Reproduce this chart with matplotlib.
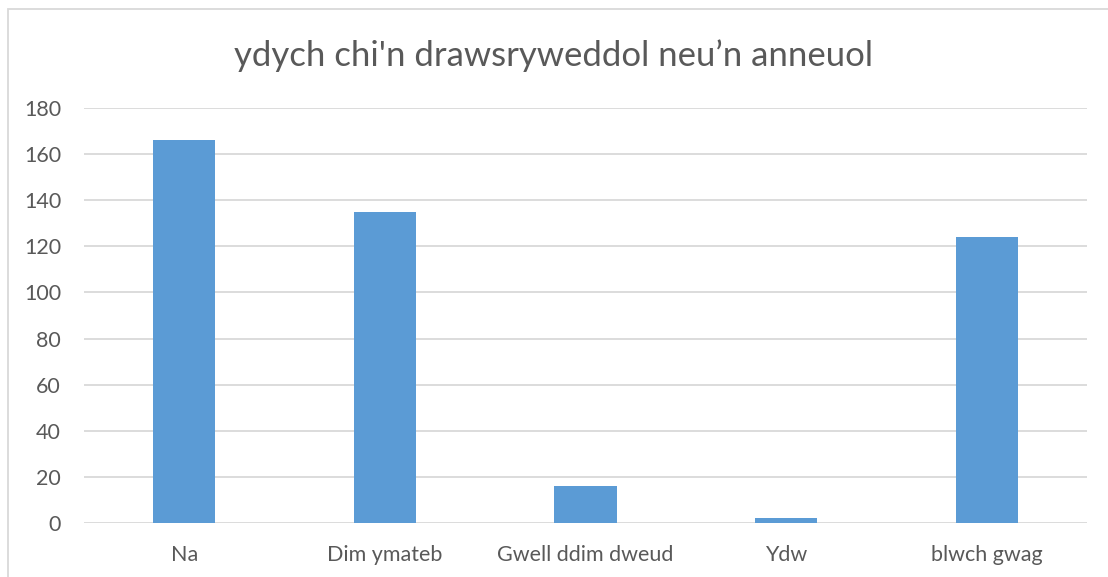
import matplotlib
matplotlib.use("Agg")
import matplotlib.pyplot as plt
from matplotlib.patches import Rectangle

# data
categories = ["Na", "Dim ymateb", "Gwell ddim dweud", "Ydw", "blwch gwag"]
values = [166, 135, 16, 2, 124]
title = "ydych chi'n drawsryweddol neu\u2019n anneuol"

BAR = "#5B9BD5"
GRID = "#D9D9D9"
TXT = "#595959"

plt.rcParams["font.family"] = ["Lato", "DejaVu Sans"]

fig = plt.figure(figsize=(11.08, 5.77), dpi=100)
ax = fig.add_axes([84 / 1108, 1 - 523 / 577, (1087 - 84) / 1108, (523 - 108) / 577])

x = range(len(categories))
ax.bar(x, values, width=0.31, color=BAR, zorder=3)

ax.set_xlim(-0.5, len(categories) - 0.5)
ax.set_ylim(0, 180)
ax.set_yticks(range(0, 181, 20))
ax.set_xticks(list(x))
ax.set_xticklabels(categories)

ax.grid(axis="y", color=GRID, linewidth=1.3, zorder=0)
for s in ax.spines.values():
    s.set_visible(False)
ax.tick_params(length=0, labelsize=15.5, labelcolor=TXT)
ax.tick_params(axis="y", pad=16.5)
ax.tick_params(axis="x", pad=16)

fig.text(0.5, 1 - 56 / 577, title, ha="center", va="center", fontsize=25, color=TXT)

# light border of the chart frame
fig.patches.append(Rectangle((8 / 1108, -0.1), 1.2, 1 - 9 / 577 + 0.1,
                             transform=fig.transFigure, fill=False,
                             edgecolor=GRID, linewidth=1.3))

fig.savefig("out.png", dpi=100)
